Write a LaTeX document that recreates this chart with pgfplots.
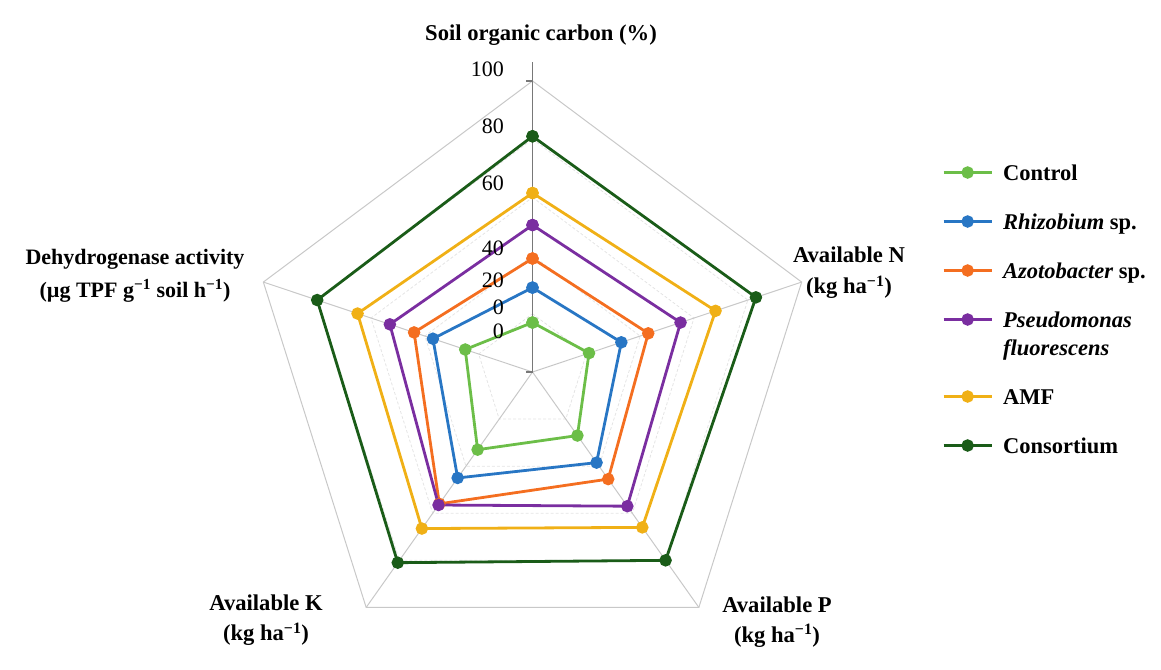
\documentclass[border=0pt]{standalone}
\usepackage{fontspec}
\setmainfont{Liberation Serif}
\usepackage{pgfplots}
\pgfplotsset{compat=1.18}
\definecolor{cControl}{RGB}{108,190,72}
\definecolor{cRhizo}{RGB}{40,118,196}
\definecolor{cAzoto}{RGB}{244,110,32}
\definecolor{cPseudo}{RGB}{122,46,160}
\definecolor{cAMF}{RGB}{240,176,22}
\definecolor{cCons}{RGB}{26,92,24}
\definecolor{gridc}{RGB}{200,200,200}
\definecolor{gridin}{RGB}{228,228,228}
\definecolor{axc}{RGB}{120,120,120}
\begin{document}
\begin{tikzpicture}
\begin{axis}[
  x=2.83pt, y=2.91pt,
  xmin=-188.16, xmax=222.08, ymin=-102.06, ymax=127.84,
  anchor=origin, at={(532.5pt,297pt)},
  hide axis, clip=false,
  data cs=polar,
  legend style={draw=none, fill=none, at={(0.8114,0.7605)}, anchor=north west,
    inner sep=0pt, row sep=21pt, column sep=10pt, nodes={inner sep=0pt, text depth=},
    cells={anchor=base west}, font=\fontsize{22.5}{28}\selectfont\bfseries},
  legend image code/.code={\draw[mark repeat=2,mark phase=2,#1] plot coordinates {(0pt,7.5pt) (24pt,7.5pt) (48pt,7.5pt)};},
  series/.style={line width=2.8pt, mark=*, mark size=4.8pt, mark options={solid}},
]
% inner grid pentagons
\addplot[gridin, densely dashed, line width=0.8pt, forget plot] coordinates {(90,20)(18,20)(-54,20)(-126,20)(162,20)(90,20)};
\addplot[gridin, densely dashed, line width=0.8pt, forget plot] coordinates {(90,40)(18,40)(-54,40)(-126,40)(162,40)(90,40)};
\addplot[gridin, densely dashed, line width=0.8pt, forget plot] coordinates {(90,60)(18,60)(-54,60)(-126,60)(162,60)(90,60)};
\addplot[gridin, densely dashed, line width=0.8pt, forget plot] coordinates {(90,80)(18,80)(-54,80)(-126,80)(162,80)(90,80)};
% outer pentagon
\addplot[gridc, line width=1pt, forget plot] coordinates {(90,100)(18,100)(-54,100)(-126,100)(162,100)(90,100)};
% spokes
\addplot[gridc, line width=1pt, forget plot] coordinates {(0,0)(18,100)};
\addplot[gridc, line width=1pt, forget plot] coordinates {(0,0)(-54,100)};
\addplot[gridc, line width=1pt, forget plot] coordinates {(0,0)(-126,100)};
\addplot[gridc, line width=1pt, forget plot] coordinates {(0,0)(162,100)};
% radial axis (soil organic carbon)
\addplot[axc, line width=1.1pt, forget plot] coordinates {(90,0)(90,106.5)};
\addplot[axc, line width=1.1pt, forget plot, data cs=cart] coordinates {(-2.2,100)(0,100)};
\addplot[axc, line width=1.1pt, forget plot, data cs=cart] coordinates {(-2.2,0)(0,0)};
% series: angles 90 SOC, 18 N, -54 P, -126 K, 162 Dehydrogenase
\addplot[series, color=cControl] coordinates {(90,17)(18,21)(-54,27)(-126,33)(162,25)(90,17)};
\addlegendentry{Control\strut}
\addplot[series, color=cRhizo] coordinates {(90,29)(18,33)(-54,38.5)(-126,45)(162,37)(90,29)};
\addlegendentry{\emph{Rhizobium} sp.\strut}
\addplot[series, color=cAzoto] coordinates {(90,39)(18,43)(-54,45.5)(-126,56)(162,44)(90,39)};
\addlegendentry{\emph{Azotobacter} sp.\strut}
\addplot[series, color=cPseudo] coordinates {(90,50.5)(18,55)(-54,57)(-126,56.5)(162,53)(90,50.5)};
\addlegendentry{\begin{tabular}[t]{@{}l@{}}\emph{Pseudomonas}\\\emph{fluorescens}\end{tabular}}
\addplot[series, color=cAMF] coordinates {(90,61.5)(18,68)(-54,66)(-126,66.5)(162,65)(90,61.5)};
\addlegendentry{AMF\strut}
\addplot[series, color=cCons] coordinates {(90,81)(18,83)(-54,80)(-126,81)(162,80)(90,81)};
\addlegendentry{Consortium\strut}
\end{axis}
% radial tick labels
\begin{scope}[every node/.style={anchor=east, font=\fontsize{22}{26}\selectfont, inner sep=0pt}]
\node at (504pt,600pt) {100};
\node at (504pt,543pt) {80};
\node at (504pt,486pt) {60};
\node at (504pt,421pt) {40};
\node at (504pt,389pt) {20};
\node at (504pt,362pt) {0};
\node at (504pt,338pt) {0};
\end{scope}
% axis titles
\node[font=\fontsize{22.6}{26}\selectfont\bfseries] at (541pt,634pt) {Soil organic carbon (\%)};
\node[align=center, font=\fontsize{22.6}{31}\selectfont\bfseries] at (849pt,396pt) {Available N\\(kg ha\textsuperscript{−1})};
\node[align=center, font=\fontsize{22.6}{30}\selectfont\bfseries] at (777pt,47pt) {Available P\\(kg ha\textsuperscript{−1})};
\node[align=center, font=\fontsize{22.6}{30}\selectfont\bfseries] at (266pt,48.5pt) {Available K\\(kg ha\textsuperscript{−1})};
\node[align=center, font=\fontsize{22}{33}\selectfont\bfseries] at (135pt,393.5pt) {Dehydrogenase activity\\(µg TPF g\textsuperscript{−1} soil h\textsuperscript{−1})};
\pgfresetboundingbox
\path[use as bounding box] (0,0) rectangle (1161pt,669pt);
\end{tikzpicture}
\end{document}
